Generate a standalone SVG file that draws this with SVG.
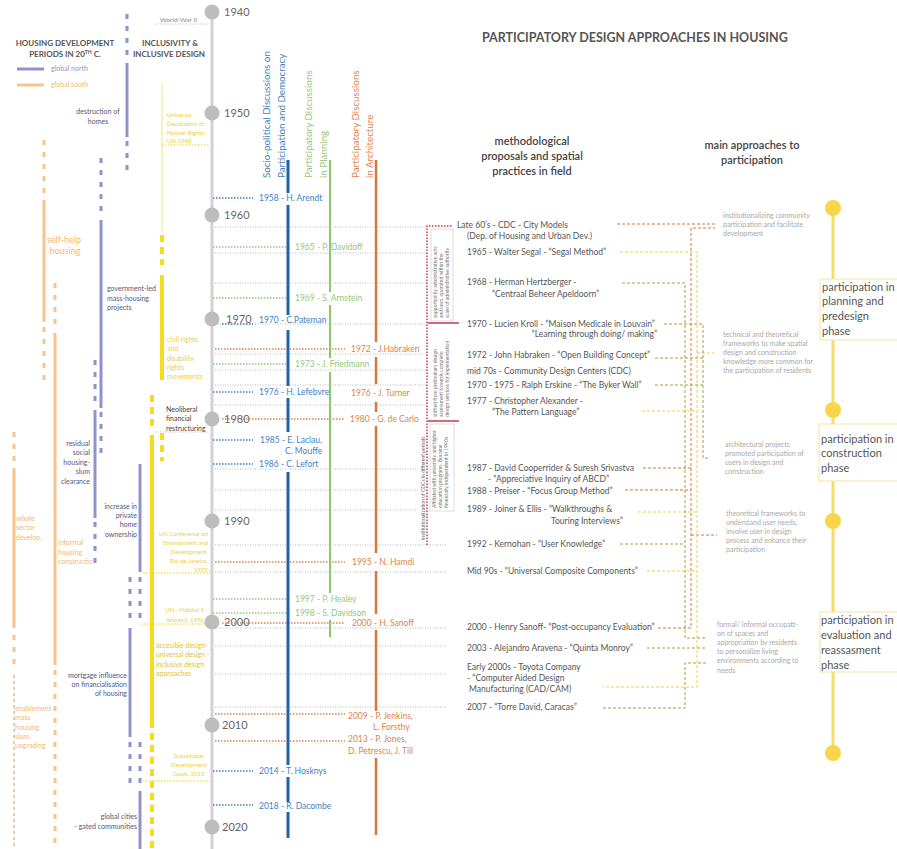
<svg xmlns="http://www.w3.org/2000/svg" width="897" height="849" viewBox="0 0 897 849">
<style>
text{font-family:Lato,"Noto Sans","DejaVu Sans",sans-serif}
.yr{font-size:11px;fill:#666}
.lab{font-size:8.5px}
.vh{font-size:9.8px}
.cb{fill:#3f7fc0}.cg{fill:#93c77a}.co{fill:#e0834a}
.meth{font-size:8.5px;fill:#555}
.appr{font-size:7px;fill:#a8a8a8}
.phase{font-size:11px;fill:#555}
.sm{font-size:7px}
.xs{font-size:6px}
.dk{fill:#55557a}
.og{fill:#f4b872}
.yl{fill:#f0d030}
.gd{fill:#e6c21e}
.hd{font-size:8px;font-weight:bold;fill:#555}
.tiny{font-size:5px;fill:#777}
.gn{stroke:#8e93cc;stroke-width:3;fill:none}
.gs{stroke:#f7c48e;stroke-width:3;fill:none}
.yy{stroke:#f7dc1e;stroke-width:4;fill:none}
.dash{stroke-dasharray:5 7}
.gdot{stroke:#a8a8a8;stroke-width:0.8;stroke-dasharray:1 1.5;fill:none}
.bdot{stroke:#3f7fc0;stroke-width:1.3;stroke-dasharray:1.5 1.5;fill:none}
.grdot{stroke:#93c77a;stroke-width:1.3;stroke-dasharray:1.5 1.5;fill:none}
.odot{stroke:#e0834a;stroke-width:1.3;stroke-dasharray:1.5 1.5;fill:none}
.ydot{stroke:#f5d000;stroke-width:1.2;stroke-dasharray:1.5 1.5;fill:none}
.cor{stroke:#d4743c;stroke-width:1;stroke-dasharray:3 2;fill:none}
.cye{stroke:#f0d040;stroke-width:1;stroke-dasharray:3 2;fill:none}
.col{stroke:#b39a3c;stroke-width:1;stroke-dasharray:3 2;fill:none}
.circ{fill:#bdbdbd}
.pc{fill:#f9d54a}
.pbox{fill:#fff;stroke:#f5e6a0;stroke-width:1}
</style>

<!-- Title and headers -->
<g id="titles">
<text x="482" y="42" style="font-size:12.5px;font-weight:bold;fill:#555">PARTICIPATORY DESIGN APPROACHES IN HOUSING</text>
<text x="532" y="145" text-anchor="middle" style="font-size:11px;font-weight:600;fill:#444">methodological</text>
<text x="532" y="160" text-anchor="middle" style="font-size:11px;font-weight:600;fill:#444">proposals and  spatial</text>
<text x="532" y="175" text-anchor="middle" style="font-size:11px;font-weight:600;fill:#444">practices in field</text>
<text x="752" y="149" text-anchor="middle" style="font-size:11px;font-weight:600;fill:#444">main approaches to</text>
<text x="752" y="164" text-anchor="middle" style="font-size:11px;font-weight:600;fill:#444">participation</text>
<text x="65" y="46" text-anchor="middle" class="hd">HOUSING DEVELOPMENT</text>
<text x="65" y="57" text-anchor="middle" class="hd">PERIODS IN 20<tspan style="font-size:5px" dy="-3">TH</tspan><tspan dy="3"> C.</tspan></text>
<text x="170" y="46" text-anchor="middle" class="hd">INCLUSIVITY &amp;</text>
<text x="169" y="57" text-anchor="middle" class="hd">INCLUSIVE DESIGN</text>
</g>

<!-- Legend -->
<g id="legend">
<line x1="17" y1="69" x2="44" y2="69" class="gn"/>
<text x="51" y="71" class="sm" style="fill:#8e93cc">global north</text>
<line x1="17" y1="85" x2="44" y2="85" class="gs"/>
<text x="51" y="86.5" class="sm og">global south</text>
</g>

<!-- Housing development periods: global north -->
<g id="global-north">
<path class="gn dash" d="M127 14V58"/>
<path class="gn" d="M127 63V137"/>
<path class="gn dash" d="M127 141V170"/>
<text x="98" y="113.5" text-anchor="middle" class="sm dk">destruction of</text>
<text x="98" y="123.5" text-anchor="middle" class="sm dk">homes</text>
<path class="gn dash" d="M101 158V215"/>
<path class="gn" d="M101 220V408"/>
<path class="gn dash" d="M101 412V456"/>
<text x="107" y="290.5" class="sm dk">government-led</text>
<text x="107" y="300.5" class="sm dk">mass-housing</text>
<text x="107" y="310" class="sm dk">projects</text>
<path class="gn dash" d="M95 360V404"/>
<path class="gn" d="M95 410V518"/>
<path class="gn dash" d="M95 522V566"/>
<text x="90" y="445.5" text-anchor="end" class="sm dk">residual</text>
<text x="90" y="455" text-anchor="end" class="sm dk">social</text>
<text x="90" y="464.5" text-anchor="end" class="sm dk">housing-</text>
<text x="90" y="474" text-anchor="end" class="sm dk">slum</text>
<text x="90" y="483.5" text-anchor="end" class="sm dk">clearance</text>
<path class="gn" d="M140 464V572"/>
<path class="gn dash" d="M140 577V622"/>
<text x="137" y="508.5" text-anchor="end" class="sm dk">increase in</text>
<text x="137" y="518" text-anchor="end" class="sm dk">private</text>
<text x="137" y="527" text-anchor="end" class="sm dk">home</text>
<text x="137" y="536.5" text-anchor="end" class="sm dk">ownership</text>
<path class="gn dash" d="M130 577V622"/>
<path class="gn" d="M130 628V737"/>
<path class="gn dash" d="M130 742V786"/>
<text x="127" y="677.5" text-anchor="end" class="sm dk">mortgage influence</text>
<text x="127" y="687" text-anchor="end" class="sm dk">on financialisation</text>
<text x="127" y="696" text-anchor="end" class="sm dk">of housing</text>
<path class="gn dash" d="M140 742V786"/>
<path class="gn" d="M140 791V849"/>
<text x="137" y="818.5" text-anchor="end" class="sm dk">global cities</text>
<text x="137" y="828.5" text-anchor="end" class="sm dk">- gated communities</text>
</g>

<!-- Housing development periods: global south -->
<g id="global-south">
<path class="gs dash" d="M44 140V196"/>
<path class="gs" d="M44 200V322"/>
<path class="gs dash" d="M44 327V383"/>
<text x="64" y="242.5" text-anchor="middle" style="font-size:9px" class="og">self-help</text>
<text x="65" y="253.5" text-anchor="middle" style="font-size:9px" class="og">housing</text>
<path class="gs dash" d="M55 283V328"/>
<path class="gs" d="M55 333V665"/>
<path class="gs dash" d="M55 670V849"/>
<text x="58" y="544.5" class="sm og">informal</text>
<text x="58" y="554.5" class="sm og">housing</text>
<text x="58" y="563.5" class="sm og">constructio</text>
<path class="gs dash" d="M14 432V463"/>
<path class="gs" d="M14 468V628"/>
<path class="gs dash" d="M14 635V668"/>
<path d="M14 675V849" style="stroke:#f7c48e;stroke-width:1.8;stroke-dasharray:3 3;fill:none"/>
<text x="16" y="520.5" class="sm og">whole</text>
<text x="16" y="530" class="sm og">sector</text>
<text x="16" y="539.5" class="sm og">develop.</text>
<text x="15" y="710.5" class="sm og">enablement</text>
<text x="15" y="720" class="sm og">mass</text>
<text x="15" y="729.5" class="sm og">housing</text>
<text x="15" y="739" class="sm og">slum</text>
<text x="15" y="748" class="sm og">upgrading</text>
</g>

<!-- Inclusivity and inclusive design -->
<g id="inclusive-design">
<path d="M162 84V232" style="stroke:#f7e27a;stroke-width:1;fill:none"/>
<path class="ydot" d="M162 145H210"/>
<text x="167" y="117" class="xs yl">Universal</text>
<text x="167" y="126" class="xs yl">Declaration of</text>
<text x="167" y="135" class="xs yl">Human Rights,</text>
<text x="167" y="143" class="xs yl">UN 1948</text>
<path class="yy" d="M162 235V265" style="stroke-dasharray:7 5"/>
<path class="yy" d="M162 275V380"/>
<path class="yy" d="M162 433V461" style="stroke-dasharray:7 5"/>
<text x="167" y="341.5" class="sm yl">civil rights</text>
<text x="167" y="351" class="sm yl">and</text>
<text x="167" y="360.5" class="sm yl">disability</text>
<text x="167" y="370" class="sm yl">rights</text>
<text x="167" y="379" class="sm yl">movements</text>
<path class="yy" d="M152 395V431" style="stroke-dasharray:7 5"/>
<text x="166" y="411.5" class="sm" style="fill:#444">Neoliberal</text>
<text x="166" y="421" class="sm" style="fill:#444">financial</text>
<text x="166" y="430.5" class="sm" style="fill:#444">restructuring</text>
<path class="gdot" d="M155 432H210"/>
<path class="yy" d="M152 435V728"/>
<path class="yy" d="M152 733V849" style="stroke-dasharray:7 5"/>
<text x="208" y="536" text-anchor="end" class="xs yl">UN Conference on</text>
<text x="208" y="545" text-anchor="end" class="xs yl">Environment and</text>
<text x="208" y="554" text-anchor="end" class="xs yl">Development,</text>
<text x="208" y="563" text-anchor="end" class="xs yl">Rio de Janeiro,</text>
<text x="208" y="572" text-anchor="end" class="xs yl">1992</text>
<path class="ydot" d="M143 573H210"/>
<text x="204" y="612" text-anchor="end" class="xs yl">UN - Habitat II</text>
<text x="204" y="622" text-anchor="end" class="xs yl">Istanbul, 1996</text>
<path class="ydot" d="M141 624H210"/>
<text x="156" y="647.5" class="sm gd">accesible design-</text>
<text x="156" y="657" class="sm gd">universal design -</text>
<text x="156" y="666.5" class="sm gd">inclusive design</text>
<text x="156" y="676" class="sm gd">approaches</text>
<text x="189" y="758" text-anchor="middle" class="xs yl">Sustainable</text>
<text x="189" y="767" text-anchor="middle" class="xs yl">Development</text>
<text x="189" y="775.5" text-anchor="middle" class="xs yl">Goals, 2015</text>
<path class="ydot" d="M143 781H210"/>
<path class="gdot" d="M155 24H210"/>
<text x="160" y="21.5" style="font-size:6.5px;fill:#888">World-War II</text>
</g>

<!-- Timeline -->
<g id="timeline">
<line x1="212" y1="12" x2="212" y2="849" style="stroke:#d2d2d2;stroke-width:3"/>
<circle cx="212" cy="12" r="7.5" class="circ"/><text x="224" y="16" class="yr">1940</text>
<circle cx="212" cy="113" r="7.5" class="circ"/><text x="224" y="117" class="yr">1950</text>
<circle cx="212" cy="215" r="7.5" class="circ"/><text x="224" y="219" class="yr">1960</text>
<circle cx="212" cy="319" r="7.5" class="circ"/><text x="226" y="323" class="yr">1970</text>
<circle cx="212" cy="419" r="7.5" class="circ"/><text x="224" y="423" class="yr">1980</text>
<circle cx="212" cy="521" r="7.5" class="circ"/><text x="224" y="525" class="yr">1990</text>
<circle cx="212" cy="622" r="7.5" class="circ"/><text x="224" y="626" class="yr">2000</text>
<circle cx="212" cy="725" r="7.5" class="circ"/><text x="222" y="729" class="yr">2010</text>
<circle cx="212" cy="827" r="7.5" class="circ"/><text x="222" y="831" class="yr">2020</text>
</g>

<!-- Connectors: gray dotted rows and year leaders -->
<g id="connectors">
<path class="gdot" d="M215 227H427M215 253H427M215 283H427M215 324H427M215 354H427M215 370H427M215 385H427M215 405H427M215 469H418M215 490H418M215 510H418M215 545H447M215 572H447M215 628H447M215 646H447M215 674H447M215 707H447"/>
<path class="bdot" d="M213 198H253M222 324H253M213 392H253M213 440H253M213 464H253M213 771H253M213 805H253"/>
<path class="grdot" d="M213 247H290M213 298H290M213 364H290M213 599H290M213 613H290"/>
<path class="odot" d="M215 349H345M222 419H345M215 562H345M222 623H345M215 714H345M215 741H345"/>
<!-- right dashed connectors -->
<path class="cor" d="M617 224H717"/>
<path class="cor" d="M643 468H691V228H715"/>
<path class="cor" d="M625 490H691M658 628H691V468M691 535H717"/>
<path class="cye" d="M620 252H697V687H603"/>
<path class="cye" d="M642 411H697M638 512H697M647 571H697M697 353H717"/>
<path class="col" d="M622 283H685V638H705"/>
<path class="col" d="M620 544H685"/>
<path class="col" d="M664 324H703V458H710"/>
<path class="col" d="M655 358H703M655 385H703"/>
<path class="col" d="M647 648H705"/>
<path class="col" d="M603 708H685V663H707"/>
</g>

<!-- Socio-political discussions -->
<g id="socio-political">
<text transform="translate(270,178) rotate(-90)" class="vh cb">Socio-political Discussions on</text>
<text transform="translate(285,178) rotate(-90)" class="vh cb">Participation and Democracy</text>
<path d="M288 160V193M288 205V315M288 330V386M288 398V432M288 472V765M288 777V802M288 812V838" style="stroke:#1f64a8;stroke-width:3;fill:none"/>
<text x="259" y="200.5" class="lab cb">1958 - H. Arendt</text>
<text x="259" y="323" class="lab cb">1970 - C.Pateman</text>
<text x="259" y="395" class="lab cb">1976 - H. Lefebvre</text>
<text x="260" y="443" class="lab cb">1985 - E. Laclau,</text>
<text x="285" y="454" class="lab cb">C. Mouffe</text>
<text x="259" y="467" class="lab cb">1986 - C. Lefort</text>
<text x="259" y="774" class="lab cb">2014 - T. Hosknys</text>
<text x="259" y="809" class="lab cb">2018 - R. Dacombe</text>
</g>

<!-- Planning discussions -->
<g id="planning">
<text transform="translate(312,178) rotate(-90)" class="vh cg">Participatory Discussions</text>
<text transform="translate(327,178) rotate(-90)" class="vh cg">in Planning</text>
<path d="M330 160V292M330 305V358M330 372V593M330 620V637" style="stroke:#8cc56c;stroke-width:2;fill:none"/>
<text x="295" y="250" class="lab cg">1965 - P. Davidoff</text>
<text x="295" y="301" class="lab cg">1969 - S. Arnstein</text>
<text x="295" y="367" class="lab cg">1973 - J. Friedmann</text>
<text x="295" y="602" class="lab cg">1997 - P. Healey</text>
<text x="295" y="616" class="lab cg">1998 - S. Davidson</text>
</g>

<!-- Architecture discussions -->
<g id="architecture">
<text transform="translate(359,178) rotate(-90)" class="vh co">Participatory Discussions</text>
<text transform="translate(373,178) rotate(-90)" class="vh co">in Architecture</text>
<path d="M376 160V342M376 357V384M376 402V412M376 426V553M376 571V614M376 630V711M376 758V835" style="stroke:#d9773b;stroke-width:2.5;fill:none"/>
<text x="351" y="352" class="lab co">1972 - J.Habraken</text>
<text x="351" y="396" class="lab co">1976 - J. Turner</text>
<text x="350" y="421.5" class="lab co">1980 - G. de Carlo</text>
<text x="352" y="565" class="lab co">1995 - N. Hamdi</text>
<text x="352" y="626" class="lab co">2000 - H. Sanoff</text>
<text x="348" y="719" class="lab co">2009 - P. Jenkins,</text>
<text x="373" y="730" class="lab co">L. Forsthy</text>
<text x="348" y="742" class="lab co">2013 - P. Jones,</text>
<text x="348" y="754" class="lab co">D. Petrescu, J. Till</text>
</g>

<!-- CDC institutionalization bracket -->
<g id="cdc-periods">
<path d="M427 545V226H453" style="stroke:#c8374f;stroke-width:1.5;stroke-dasharray:1.5 1.5;fill:none"/>
<rect x="431" y="229" width="22" height="92" style="fill:none;stroke:#bbb;stroke-width:0.5"/>
<path d="M428 323H459M428 421H459" style="stroke:#c8374f;stroke-width:1.5;fill:none"/>
<rect x="430" y="424" width="24" height="87" style="fill:none;stroke:#bbb;stroke-width:0.5"/>
<text transform="translate(437,318) rotate(-90)" class="tiny">supported by administrative acts</text>
<text transform="translate(443,318) rotate(-90)" class="tiny">and laws, operated within the</text>
<text transform="translate(449,318) rotate(-90)" class="tiny">scale of administrative authority</text>
<text transform="translate(437,417) rotate(-90)" class="tiny">shifted from preliminary design</text>
<text transform="translate(443,417) rotate(-90)" class="tiny">assessment towards complete</text>
<text transform="translate(449,417) rotate(-90)" class="tiny">design services for implementation</text>
<text transform="translate(436,508) rotate(-90)" class="tiny">Affiliated with university and higher</text>
<text transform="translate(442,508) rotate(-90)" class="tiny">education programs. Became</text>
<text transform="translate(448,508) rotate(-90)" class="tiny">financially independent in 1990s</text>
<text transform="translate(425,540) rotate(-90)" class="tiny" style="fill:#666">Institutionalization of CDCs in different periods</text>
</g>

<!-- Methodological proposals -->
<g id="methods">
<text x="457" y="228" class="meth">Late 60’s - CDC - City Models</text>
<text x="467" y="239" class="meth">(Dep. of Housing and Urban Dev.)</text>
<text x="467" y="255" class="meth">1965 - Walter Segal - “Segal Method”</text>
<text x="467" y="285" class="meth">1968 - Herman Hertzberger -</text>
<text x="492" y="297" class="meth">“Centraal Beheer Apeldoorn”</text>
<text x="467" y="327" class="meth">1970 - Lucien Kroll - “Maison Medicale in Louvain”</text>
<text x="657" y="337" text-anchor="end" class="meth">“Learning through doing/ making”</text>
<text x="467" y="358" class="meth">1972 - John Habraken - “Open Building Concept”</text>
<text x="467" y="374" class="meth">mid 70s - Community Design Centers (CDC)</text>
<text x="467" y="388" class="meth">1970 - 1975 - Ralph Erskine - “The Byker Wall”</text>
<text x="467" y="404" class="meth">1977 - Christopher Alexander -</text>
<text x="492" y="415" class="meth">“The Pattern Language”</text>
<text x="467" y="471" class="meth">1987 - David Cooperrider &amp; Suresh Srivastva</text>
<text x="488" y="482" class="meth">- “Appreciative Inquiry of ABCD”</text>
<text x="467" y="494" class="meth">1988 - Preiser - “Focus Group Method”</text>
<text x="467" y="512" class="meth">1989 - Joiner &amp; Ellis - “Walkthroughs &amp;</text>
<text x="551" y="524" class="meth">Touring Interviews”</text>
<text x="467" y="547" class="meth">1992 - Kernohan - “User Knowledge”</text>
<text x="467" y="574" class="meth">Mid 90s - “Universal Composite Components”</text>
<text x="467" y="630" class="meth">2000 - Henry Sanoff- “Post-occupancy Evaluation”</text>
<text x="467" y="651" class="meth">2003 - Alejandro Aravena - “Quinta Monroy”</text>
<text x="467" y="670" class="meth">Early 2000s - Toyota Company</text>
<text x="467" y="681" class="meth">- “Computer Aided Design</text>
<text x="469" y="692" class="meth">Manufacturing (CAD/CAM)</text>
<text x="467" y="710" class="meth">2007 - “Torre David, Caracas”</text>
</g>

<!-- Main approaches -->
<g id="approaches">
<text x="723" y="217.5" class="appr">institutionalizing community</text>
<text x="723" y="226.5" class="appr">participation and facilitate</text>
<text x="723" y="236" class="appr">development</text>
<text x="723" y="336.5" class="appr">technical and theoretical</text>
<text x="723" y="345.5" class="appr">frameworks to make spatial</text>
<text x="723" y="354.5" class="appr">design and construction</text>
<text x="723" y="364" class="appr">knowledge more common for</text>
<text x="723" y="373" class="appr">the participation of residents</text>
<text x="725" y="446.5" class="appr">architectural projects</text>
<text x="725" y="455.5" class="appr">promoted participation of</text>
<text x="725" y="464.5" class="appr">users in design and</text>
<text x="725" y="474" class="appr">construction</text>
<text x="726" y="515.5" class="appr">theoretical frameworks to</text>
<text x="726" y="524.5" class="appr">understand user needs,</text>
<text x="726" y="533.5" class="appr">involve user in design</text>
<text x="726" y="542.5" class="appr">process and enhance their</text>
<text x="726" y="552" class="appr">participation</text>
<text x="717" y="626.5" class="appr">formal/ informal occupatt-</text>
<text x="717" y="635.5" class="appr">on of spaces and</text>
<text x="717" y="645" class="appr">appropriation by residents</text>
<text x="717" y="654" class="appr">to personalize living</text>
<text x="717" y="663" class="appr">environments according to</text>
<text x="717" y="673" class="appr">needs</text>
</g>

<!-- Participation phases -->
<g id="phases">
<line x1="833" y1="208" x2="833" y2="753" style="stroke:#f8dc6a;stroke-width:3"/>
<circle cx="833" cy="208" r="8" class="pc"/>
<circle cx="833" cy="410" r="8" class="pc"/>
<circle cx="833" cy="521" r="8" class="pc"/>
<circle cx="833" cy="753" r="8" class="pc"/>
</g>
<g id="phase-planning">
<rect x="820" y="279" width="82" height="61" class="pbox"/>
<text x="822" y="291" class="phase">participation in</text>
<text x="822" y="305" class="phase">planning and</text>
<text x="822" y="320" class="phase">predesign</text>
<text x="822" y="335" class="phase">phase</text>
</g>
<g id="phase-construction">
<rect x="819" y="424" width="83" height="57" class="pbox"/>
<text x="821" y="443" class="phase">participation in</text>
<text x="821" y="457" class="phase">construction</text>
<text x="821" y="472" class="phase">phase</text>
</g>
<g id="phase-evaluation">
<rect x="820" y="612" width="82" height="60" class="pbox"/>
<text x="821" y="624" class="phase">participation in</text>
<text x="821" y="639" class="phase">evaluation and</text>
<text x="821" y="654" class="phase">reassasment</text>
<text x="821" y="669" class="phase">phase</text>
</g>
</svg>
